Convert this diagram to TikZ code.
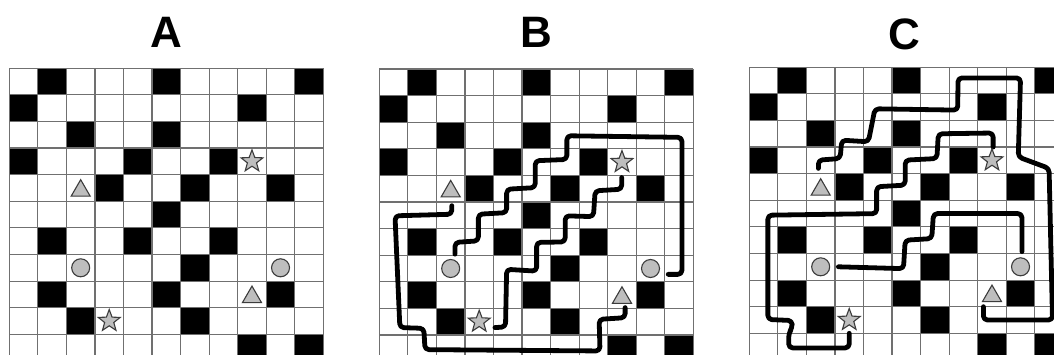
\documentclass[tikz,border=0pt]{standalone}
\usepackage{fontspec}
\setmainfont{Liberation Sans}
\usetikzlibrary{shapes.geometric}
\definecolor{gridgray}{RGB}{112,112,112}
\definecolor{shapefill}{RGB}{190,190,190}
\definecolor{shapeline}{RGB}{60,60,60}
\tikzset{
  gridline/.style={draw=gridgray, line width=1.2pt},
  blackcell/.style={fill=black},
  token/.style={draw=shapeline, fill=shapefill, line width=1.1pt, inner sep=0pt},
  starnode/.style={token, star, star points=5, star point ratio=2.4, minimum size=23pt},
  trinode/.style={token, regular polygon, regular polygon sides=3, minimum size=22pt, yshift=-2.7pt},
  circnode/.style={token, circle, minimum size=18pt},
  route/.style={draw=black, line width=4.8pt, line cap=round, line join=round, rounded corners=4pt},
  panellabel/.style={font=\fontsize{44}{48}\selectfont\bfseries, inner sep=0pt, anchor=center},
  panel/.style={x=28.55pt, y=-26.6pt}
}
\newcommand\myboard[1]{%
  \foreach \c/\r in {1/0,5/0,10/0,0/1,8/1,2/2,5/2,0/3,4/3,7/3,3/4,6/4,9/4,5/5,1/6,4/6,7/6,6/7,1/8,5/8,9/8,2/9,6/9,8/10,10/10}
    {\fill[blackcell] (\c,\r) rectangle ++(1,1);}
  \foreach \i in {0,...,11}{%
    \draw[gridline] (\i,0) -- (\i,11);
    \draw[gridline] (0,\i) -- (11,\i);}
}
\newcommand\mytokens[1]{%
  \node[starnode] (#1s1) at (8.5,3.5) {};
  \node[starnode] (#1s2) at (3.5,9.5) {};
  \node[trinode] (#1t1) at (2.5,4.5) {};
  \node[trinode] (#1t2) at (8.5,8.5) {};
  \node[circnode] (#1c1) at (2.5,7.5) {};
  \node[circnode] (#1c2) at (9.5,7.5) {};
}
\begin{document}
\begin{tikzpicture}[x=1pt, y=-1pt]
\useasboundingbox (0,0) rectangle (1054,355);
\clip (0,0) rectangle (1054,355);
\fill[white] (0,0) rectangle (1054,355);
\node[panellabel] (labA) at (166,32) {A};
\node[panellabel] (labB) at (536,32) {B};
\node[panellabel] (labC) at (904,34) {C};
% Panel A
\begin{scope}[shift={(9.3pt,-68.3pt)}, panel]
  \myboard{a}
  \mytokens{a}
\end{scope}
% Panel B
\begin{scope}[shift={(379.3pt,-69pt)}, panel]
  \myboard{b}
  \draw[route] (2.54,5.14) -- (2.54,5.46) -- (0.55,5.52) -- (0.72,9.72) -- (1.56,9.75) -- (1.6,10.55) -- (7.73,10.6) -- (7.7,9.41) -- (8.61,9.35) -- (8.61,8.97);
  \draw[route] (2.65,6.96) -- (2.65,6.52) -- (3.47,6.46) -- (3.47,5.46) -- (4.46,5.4) -- (4.46,4.52) -- (5.46,4.46) -- (5.46,3.45) -- (6.57,3.4) -- (6.57,2.51) -- (10.6,2.57) -- (10.6,7.72) -- (10.12,7.72);
  \draw[route] (4.05,9.72) -- (4.42,9.7) -- (4.46,7.53) -- (5.51,7.6) -- (5.51,6.52) -- (6.51,6.5) -- (6.51,5.52) -- (7.5,5.55) -- (7.56,4.58) -- (8.49,4.52) -- (8.49,4.08);
  \mytokens{b}
\end{scope}
% Panel C
\begin{scope}[shift={(749.3pt,-67.3pt)}, panel]
  \myboard{c}
  \draw[route] (2.42,3.8) -- (2.42,3.49) -- (3.18,3.43) -- (3.24,2.74) -- (4.17,2.8) -- (4.4,1.56) -- (7.3,1.61) -- (7.31,0.4) -- (9.5,0.4) -- (9.42,3.37) -- (10.5,3.8) -- (10.62,9.5) -- (8.2,9.5) -- (8.2,9.0);
  \draw[route] (3.5,10.0) -- (3.5,10.55) -- (1.38,10.55) -- (1.38,10.0) -- (1.5,9.8) -- (1.5,9.52) -- (0.65,9.48) -- (0.65,5.56) -- (4.46,5.5) -- (4.46,4.49) -- (5.46,4.43) -- (5.46,3.49) -- (6.57,3.43) -- (6.62,2.5) -- (8.54,2.47) -- (8.54,3.0);
  \draw[route] (3.12,7.5) -- (5.4,7.57) -- (5.46,6.5) -- (6.39,6.44) -- (6.45,5.5) -- (9.55,5.5) -- (9.55,6.93);
  \mytokens{c}
\end{scope}
\end{tikzpicture}
\end{document}
